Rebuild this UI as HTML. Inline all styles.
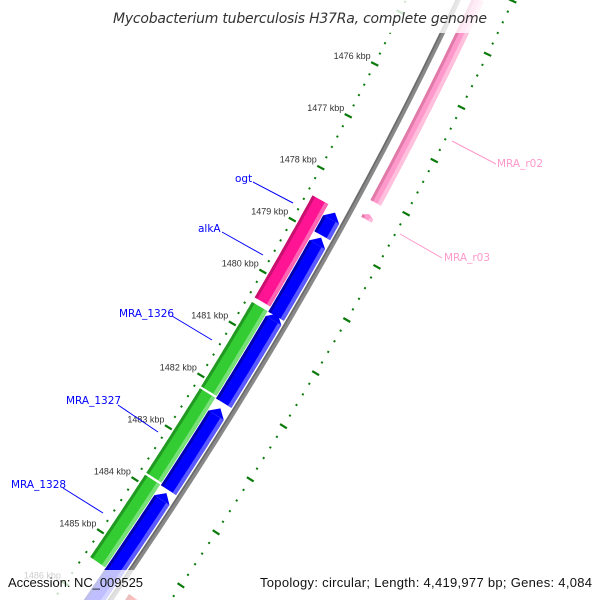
<!DOCTYPE html>
<html><head><meta charset="utf-8"><style>
html,body{margin:0;padding:0;background:#fff;width:600px;height:600px;overflow:hidden;}
svg{display:block;font-family:"Liberation Sans",sans-serif;overflow:hidden;}
</style></head><body>
<svg id="map" width="600" height="600" viewBox="0 0 600 600" xmlns="http://www.w3.org/2000/svg">
<rect width="600" height="600" fill="#fff"/>
<g id="ticks"></g>
<g id="backbone"></g>
<g id="features"></g>
<g id="annot" font-family="DejaVu Sans, sans-serif">
 <line x1="253" y1="182" x2="293" y2="203" stroke="#00f" stroke-width="1"/>
 <text x="235" y="182" font-size="10.5" fill="#00f">ogt</text>
 <line x1="222" y1="232" x2="263" y2="255" stroke="#00f" stroke-width="1"/>
 <text x="198" y="232" font-size="10.5" fill="#00f">alkA</text>
 <line x1="172" y1="316" x2="212" y2="340" stroke="#00f" stroke-width="1"/>
 <text x="119" y="317" font-size="10.5" fill="#00f">MRA_1326</text>
 <line x1="118" y1="405" x2="158" y2="432" stroke="#00f" stroke-width="1"/>
 <text x="66" y="404" font-size="10.5" fill="#00f">MRA_1327</text>
 <line x1="63" y1="488" x2="103" y2="513" stroke="#00f" stroke-width="1"/>
 <text x="11" y="488" font-size="10.5" fill="#00f">MRA_1328</text>
 <line x1="452" y1="141" x2="496" y2="164" stroke="#ff99cc" stroke-width="1"/>
 <text x="497" y="167" font-size="10.5" fill="#ff99cc">MRA_r02</text>
 <line x1="400" y1="234" x2="442" y2="258" stroke="#ff99cc" stroke-width="1"/>
 <text x="444" y="261" font-size="10.5" fill="#ff99cc">MRA_r03</text>
</g>
<rect x="105" y="0" width="390" height="33" fill="#fff" opacity="0.8"/>
<text x="300" y="23" text-anchor="middle" font-size="14" font-style="italic" fill="#333" font-family="DejaVu Sans, sans-serif" textLength="374">Mycobacterium tuberculosis H37Ra, complete genome</text>
<rect x="0" y="570" width="148" height="30" fill="#fff" opacity="0.75"/>
<text x="8" y="587" font-size="13" fill="#111" textLength="135">Accession: NC_009525</text>
<rect x="254" y="570" width="346" height="30" fill="#fff" opacity="0.75"/>
<text x="260" y="587" font-size="13" fill="#111" textLength="332">Topology: circular; Length: 4,419,977 bp; Genes: 4,084</text>
</svg>
<script>
// feature data (kbp)
const featNames = ['ogt','alkA','blue-2','MRA_1326','blue-3','MRA_1327','blue-4','MRA_1328','blue-5','MRA_r02','MRA_r03','red-rna'];
const featStart = [1478.46,1478.53,1479.01,1480.51,1480.46,1482.17,1482.27,1483.83,1483.89,1474.2,1478.28,1485.55];
const featEnd   = [1480.46,1479.01,1480.55,1482.17,1482.21,1483.83,1483.87,1485.45,1486.8,1478.1,1478.42,1487.0];
const featTrack = ['outer','inner','inner','outer','inner','outer','inner','outer','inner','right','right','right'];
const featColor = ['magenta','blue','blue','green','blue','green','blue','green','blue','pink','pink','red'];
const featArrow = [false,true,true,false,true,false,true,false,true,false,true,false];
const majorTicks = [1476,1477,1478,1479,1480,1481,1482,1483,1484,1485,1486];
const tickLabels = ['1476 kbp','1477 kbp','1478 kbp','1479 kbp','1480 kbp','1481 kbp','1482 kbp','1483 kbp','1484 kbp','1485 kbp','1486 kbp'];

const NS='http://www.w3.org/2000/svg';
function bb(s){return 458-0.47*s-0.000182*s*s;}
function db(s){return -0.47-0.000364*s;}
function sOf(k){return 85+(k-1476)*52.5;}
function P(s,d){const b=db(s),n=Math.sqrt(1+b*b);return [bb(s)+d/n,s+d*(-b)/n];}
const trackD={outer:-32,inner:-13,right:18};
const trackW={outer:18,inner:18,right:12};
const pal={magenta:['#ff1493','#c8106e','#ff66b4'],blue:['#0000ff','#0000b0','#5a5aff'],
 green:['#33cc33','#229922','#77e077'],pink:['#ff99cc','#e07aa8','#ffc0de'],red:['#ee0000','#aa0000','#ff5050']};
function mk(tag,attrs,parent){const e=document.createElementNS(NS,tag);for(const k in attrs)e.setAttribute(k,attrs[k]);parent.appendChild(e);return e;}
function strip(s0,s1,d0,d1){
 const pts=[];const N=30;
 for(let i=0;i<=N;i++){const s=s0+(s1-s0)*i/N;pts.push(P(s,d1));}
 for(let i=N;i>=0;i--){const s=s0+(s1-s0)*i/N;pts.push(P(s,d0));}
 return pts.map(p=>p[0].toFixed(1)+','+p[1].toFixed(1)).join(' ');
}
// backbone
const bg=document.getElementById('backbone');
let bpts=[];for(let s=-40;s<=660;s+=10){bpts.push(P(s,0).map(v=>v.toFixed(1)).join(','));}
const bl=mk('polyline',{points:bpts.join(' '),fill:'none',stroke:'#888','stroke-width':5},bg);


let bpts2=[];for(let s=-40;s<=660;s+=10){bpts2.push(P(s,-1.5).map(v=>v.toFixed(1)).join(','));}
const bl2=mk('polyline',{points:bpts2.join(' '),fill:'none',stroke:'#6a6a6a','stroke-width':1.5},bg);


// ticks
const tg=document.getElementById('ticks');
const dL=-47,dR=50;
for(let k=1474;k<=1487.001;k+=0.2){
 const kk=Math.round(k*10)/10;const major=Math.abs(kk-Math.round(kk))<0.01;
 const s=sOf(kk);const len=major?4:1;
 [dL,dR].forEach(d=>{
  const a=P(s,d-len),b=P(s,d+len);
  const ln=mk('line',{x1:a[0],y1:a[1],x2:b[0],y2:b[1],stroke:'#0a7a0a','stroke-width':major?2.2:2},tg);
  
  
 });
}
majorTicks.forEach((k,i)=>{
 const p=P(sOf(k),dL);
 const t=mk('text',{x:p[0]-4,y:p[1]-5,'text-anchor':'end','font-size':9,fill:'#333'},tg);
 t.textContent=tickLabels[i];
 
 
});
// features
const fg=document.getElementById('features');
featNames.forEach((nm,i)=>{
 const s0=sOf(featStart[i])+1,s1=sOf(featEnd[i])-1;
 const d=trackD[featTrack[i]],w=trackW[featTrack[i]];
 const c=pal[featColor[i]];
 const g=mk('g',{},fg);
 
 
 let body0=s0;
 if(featArrow[i]){
  const al=Math.min(7,(s1-s0)*0.5);body0=s0+al;
  const pts=[P(s0,d),P(body0,d-w/2),P(body0,d+w/2)].map(p=>p.join(',')).join(' ');
  const ah=mk('polygon',{points:pts,fill:c[0]},g);
  
  
 }
 const m=mk('polygon',{points:strip(body0,s1,d-w/2,d+w/2),fill:c[0]},g);
 
 
 const dk=mk('polygon',{points:strip(body0,s1,d-w/2,d-w/2+3),fill:c[1]},g);
 
 
 const lt=mk('polygon',{points:strip(body0,s1,d+w/2-4,d+w/2),fill:c[2]},g);
 
 
});
</script>
</body></html>
